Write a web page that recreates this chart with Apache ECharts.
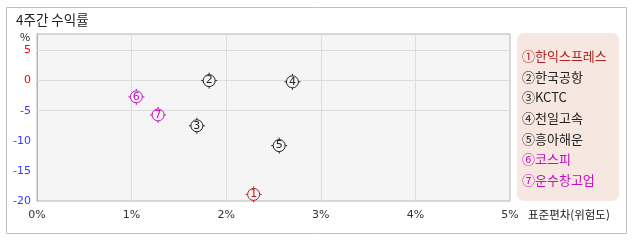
<!DOCTYPE html>
<html><head><meta charset="utf-8">
<script src="https://cdn.jsdelivr.net/npm/echarts@6/dist/echarts.min.js"></script>
<style>html,body{margin:0;padding:0;background:#fff}#c{width:638px;height:242px}</style>
</head><body><div id="c"></div>
<script>
var names = ['한익스프레스','한국공항','KCTC','천일고속','흥아해운','코스피','운수창고업'];
var marks = ['①','②','③','④','⑤','⑥','⑦'];
var stdev = [2.29, 1.82, 1.69, 2.70, 2.56, 1.05, 1.28];
var returns = [-18.9, 0.0, -7.5, -0.2, -10.8, -2.7, -5.7];
var xTicks = [0, 1, 2, 3, 4, 5];
var yGridValues = [5, 0, -5];
var colors = ['#b22222','#222','#222','#222','#222','#c010c0','#c010c0'];

var FONT = '"Noto Sans CJK KR", "DejaVu Sans", sans-serif';
var sym = 'path://M8 0 L8 2 M8 14 L8 16 M0 8 L2 8 M14 8 L16 8 M14 8 A6 6 0 1 1 2 8 A6 6 0 1 1 14 8 Z';

var series = names.map(function(n, i){
  var s = {
    type: 'scatter', name: marks[i] + n,
    data: [[stdev[i], returns[i]]],
    symbol: sym, symbolSize: 16,
    itemStyle: {color: '#f5f5f5', borderColor: colors[i], borderWidth: 1, opacity: 1},
    label: {show: true, position: 'inside', formatter: String(i+1), color: colors[i], fontSize: 11, fontFamily: 'DejaVu Sans'},
    z: 5
  };
  if (i === 0) {
    s.markLine = {silent: true, symbol: 'none', label: {show: false},
      lineStyle: {color: '#dcdcdc', type: 'solid', width: 1},
      data: yGridValues.map(function(v){ return {yAxis: v}; }), z: 1};
  }
  return s;
});

var chart = echarts.init(document.getElementById('c'));
chart.setOption({
  animation: false,
  graphic: [
    {type: 'rect', shape: {x: 6.5, y: 7.5, width: 620, height: 226}, style: {fill: '#fff', stroke: '#c0c0c0', lineWidth: 1}, z: -10},
    {type: 'text', left: 16, top: 13, style: {text: '4주간 수익률', font: '13.5px ' + FONT, fill: '#222'}},
    {type: 'text', x: 25, y: 37, style: {text: '%', font: '11px ' + FONT, fill: '#222', align: 'center', verticalAlign: 'middle'}},
    {type: 'text', x: 528, y: 215, style: {text: '표준편차(위험도)', font: '11.5px ' + FONT, fill: '#222', verticalAlign: 'middle'}},
    {type: 'rect', shape: {x: 517, y: 33, width: 102, height: 168, r: 7}, style: {fill: '#f6e8e1'}, z: -5}
  ],
  grid: {left: 37, right: 128, top: 34, bottom: 41, show: true, backgroundColor: '#f5f5f5', borderColor: '#b4b4b4', borderWidth: 1},
  xAxis: {type: 'value', min: xTicks[0], max: xTicks[xTicks.length-1], interval: 1,
    axisLine: {show: true, lineStyle: {color: '#b4b4b4'}}, axisTick: {show: false},
    splitLine: {show: true, showMinLine: false, showMaxLine: false, lineStyle: {color: '#dcdcdc'}},
    axisLabel: {formatter: '{value}%', color: '#333', fontSize: 11, fontFamily: 'DejaVu Sans', margin: 9}},
  yAxis: {type: 'value', min: -20, max: 7.75, interval: 5,
    axisLine: {show: true, lineStyle: {color: '#b4b4b4'}}, axisTick: {show: false},
    splitLine: {show: false},
    axisLabel: {showMaxLabel: false, fontSize: 11, fontFamily: 'DejaVu Sans', margin: 6,
      color: function(v){ return Number(v) >= 0 ? '#ff0000' : '#3a3aff'; },
      formatter: function(v){ return (v % 5 === 0) ? String(v) : ''; }}},
  legend: {orient: 'vertical', left: 517, top: 49, padding: 0, itemWidth: 0, itemHeight: 14, itemGap: 6.7, icon: 'none',
    data: names.map(function(n, i){ return {name: marks[i] + n, textStyle: {color: colors[i]}}; }),
    textStyle: {fontSize: 13, lineHeight: 14, fontFamily: FONT}, selectedMode: false},
  series: series
});
</script></body></html>
